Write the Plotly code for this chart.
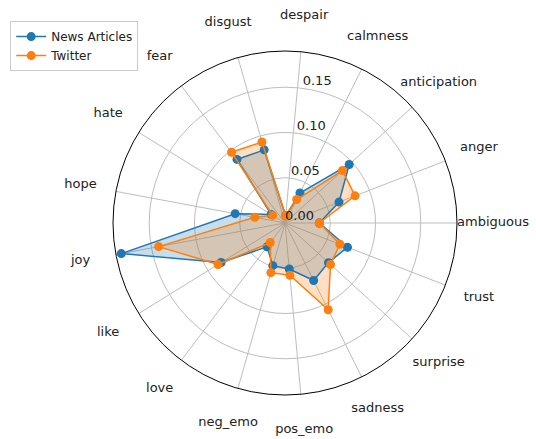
import plotly.graph_objects as go

categories = ["ambiguous", "anger", "anticipation", "calmness", "despair", "disgust",
              "fear", "hate", "hope", "joy", "like", "love", "neg_emo", "pos_emo",
              "sadness", "surprise", "trust"]
news = [0.038, 0.064, 0.096, 0.037, 0.008, 0.084, 0.088, 0.018, 0.056, 0.184,
        0.083, 0.033, 0.049, 0.051, 0.071, 0.065, 0.074]
twitter = [0.038, 0.083, 0.086, 0.029, 0.008, 0.093, 0.098, 0.016, 0.034, 0.142,
           0.087, 0.027, 0.057, 0.058, 0.107, 0.068, 0.065]
r_ticks = [0.00, 0.05, 0.10, 0.15]
r_tick_labels = ["0.00", "0.05", "0.10", "0.15"]

R_MAX = 0.19
n = len(categories)
angles = [i * 360.0 / n for i in range(n)]
theta_closed = angles + [angles[0]]

# pixel geometry of the polar area
W, H = 536, 439
CX, CY, RAD = 285, 223, 172
LAB_RAD, OUTER2 = 208, 214


def dom(rad):
    return dict(x=[(CX - rad) / W, (CX + rad) / W],
                y=[(H - CY - rad) / H, (H - CY + rad) / H])


fig = go.Figure()
# fills (drawn beneath lines, like matplotlib patches)
fig.add_trace(go.Scatterpolar(
    r=news + [news[0]], theta=theta_closed, mode="none", fill="toself",
    fillcolor="rgba(31,119,180,0.25)", showlegend=False, hoverinfo="skip"))
fig.add_trace(go.Scatterpolar(
    r=twitter + [twitter[0]], theta=theta_closed, mode="none", fill="toself",
    fillcolor="rgba(255,127,14,0.25)", showlegend=False, hoverinfo="skip"))
# lines + markers
fig.add_trace(go.Scatterpolar(
    r=news + [news[0]], theta=theta_closed, name="News Articles",
    mode="lines+markers",
    line=dict(color="#1f77b4", width=1.5),
    marker=dict(color="#1f77b4", size=9)))
fig.add_trace(go.Scatterpolar(
    r=twitter + [twitter[0]], theta=theta_closed, name="Twitter",
    mode="lines+markers",
    line=dict(color="#ff7f0e", width=1.5),
    marker=dict(color="#ff7f0e", size=9)))
# radial tick labels
fig.add_trace(go.Scatterpolar(
    r=r_ticks, theta=[82.5] * len(r_ticks), text=r_tick_labels, mode="text",
    textposition="top right", cliponaxis=False, showlegend=False,
    hoverinfo="skip",
    textfont=dict(family="DejaVu Sans", size=13, color="#222222")))
# category labels on an overlaid, invisible polar with a larger radius
fig.add_trace(go.Scatterpolar(
    r=[R_MAX * LAB_RAD / RAD] * n, theta=angles, text=categories, mode="text",
    textposition="middle center", cliponaxis=False, showlegend=False,
    hoverinfo="skip", subplot="polar2",
    textfont=dict(family="DejaVu Sans", size=13, color="#222222")))

hidden_axis = dict(showticklabels=False, ticks="", showline=False, showgrid=False)

fig.update_layout(
    width=W, height=H,
    margin=dict(l=0, r=0, t=0, b=0),
    paper_bgcolor="white",
    font=dict(family="DejaVu Sans", size=13, color="#222222"),
    polar=dict(
        domain=dom(RAD),
        bgcolor="white",
        angularaxis=dict(
            rotation=0, direction="counterclockwise",
            tickmode="array", tickvals=angles, showticklabels=False, ticks="",
            showgrid=True, gridcolor="#bdbdbd", gridwidth=1,
            showline=True, linecolor="#000000", linewidth=1),
        radialaxis=dict(
            range=[0, R_MAX], tickmode="array", tickvals=r_ticks[1:],
            showticklabels=False, ticks="", showline=False,
            showgrid=True, gridcolor="#bdbdbd", gridwidth=1)),
    polar2=dict(
        domain=dom(OUTER2),
        bgcolor="rgba(0,0,0,0)",
        angularaxis=dict(rotation=0, direction="counterclockwise", **hidden_axis),
        radialaxis=dict(range=[0, R_MAX * OUTER2 / RAD], **hidden_axis)),
    legend=dict(x=0.019, y=0.952, xanchor="left", yanchor="top",
                bordercolor="#cccccc", borderwidth=1, bgcolor="white",
                font=dict(family="DejaVu Sans", size=12, color="#222222"),
                tracegroupgap=0, itemwidth=30),
)

fig.write_html("out.html")
